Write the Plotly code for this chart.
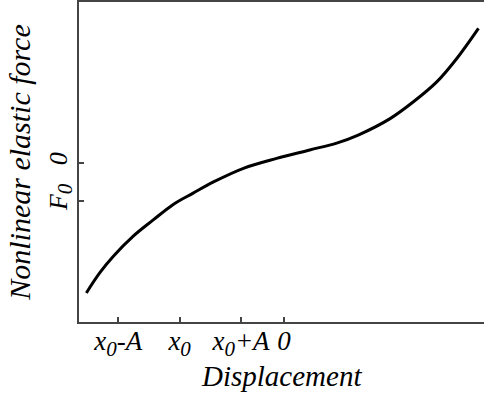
import plotly.graph_objs as go

# curve (x0 = -1.7, A = 1, F0 = -1)
displacement = [-3.22, -3.00, -2.78, -2.46, -2.13, -1.81, -1.48, -1.14, -0.66, -0.12,
                0.42, 0.86, 1.21, 1.73, 2.11, 2.49, 2.82, 3.17]
force = [-3.41, -2.88, -2.45, -1.93, -1.50, -1.10, -0.80, -0.50, -0.15, 0.11,
         0.33, 0.51, 0.72, 1.15, 1.59, 2.11, 2.73, 3.51]

sub0 = '<sub><span style="font-size:21px">0</span></sub>'
x_tickvals = [-2.7, -1.7, -0.7, 0]
x_ticktext = ['x' + sub0 + '-A', 'x' + sub0, 'x' + sub0 + '+A', '0']
y_tickvals = [0, -1]
y_ticktext = ['0', 'F' + sub0]

serif = 'Liberation Serif'

fig = go.Figure()
fig.add_trace(go.Scatter(x=displacement, y=force, mode='lines', line_shape='spline',
                         line=dict(color='black', width=3), showlegend=False))

fig.update_layout(
    width=484, height=398,
    margin=dict(l=79, r=0, t=2, b=76),
    plot_bgcolor='white', paper_bgcolor='white',
    font=dict(family=serif, color='black'),
    xaxis=dict(range=[-3.34, 3.26], showgrid=False, zeroline=False, automargin=False,
               showline=True, linecolor='#444', linewidth=2, mirror=True,
               ticks='inside', ticklen=5, tickwidth=1.5, tickcolor='#444',
               tickvals=x_tickvals, ticktext=x_ticktext, ticklabelstandoff=-6,
               tickfont=dict(family=serif, size=27, style='italic')),
    yaxis=dict(range=[-4.17, 4.2], showgrid=False, zeroline=False, automargin=False,
               showline=True, linecolor='#444', linewidth=2,
               ticks='inside', ticklen=5, tickwidth=1.5, tickcolor='#444',
               tickvals=y_tickvals, ticktext=y_ticktext, tickangle=-90,
               tickfont=dict(family=serif, size=26, style='italic'),
               title=dict(text='Nonlinear elastic force', standoff=4,
                          font=dict(family=serif, size=30, style='italic'))),
    # x title as an annotation so it can sit closer to the tick labels
    annotations=[dict(text='Displacement', xref='paper', yref='paper', x=0.5, y=-0.169,
                      xanchor='center', yanchor='middle', showarrow=False,
                      font=dict(family=serif, size=29, style='italic'))],
)

# page has a default 8px body margin; drop it so the figure sits at the window corner
fig.write_html('out.html', config={'displayModeBar': False},
               post_script="document.body.style.margin='0';")
